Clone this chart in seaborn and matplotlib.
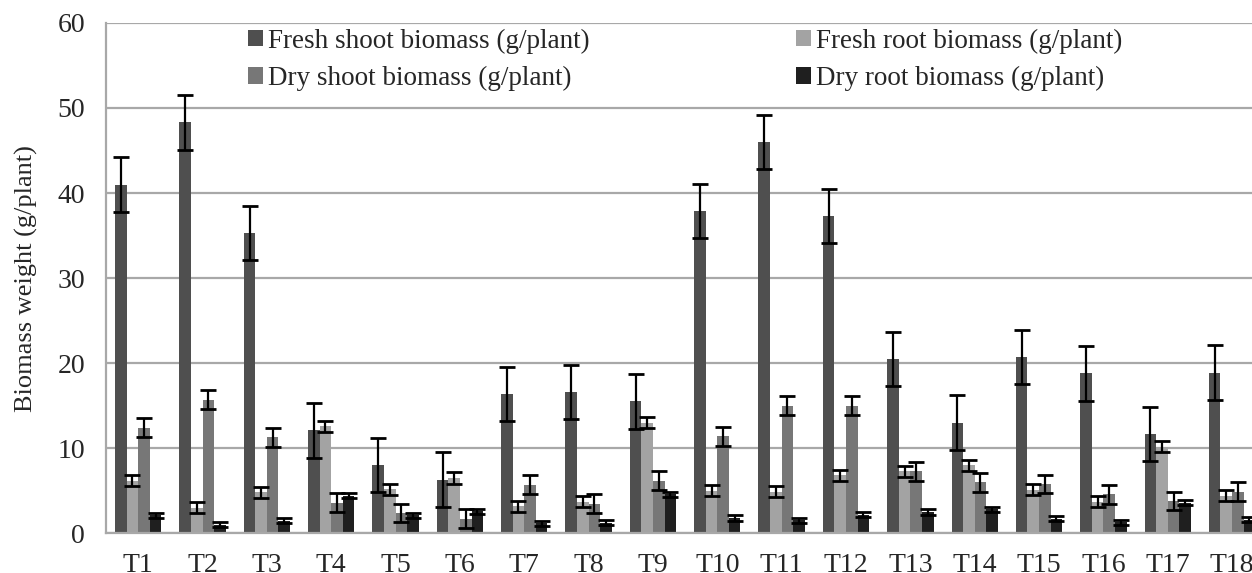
import numpy as np
import pandas as pd
import matplotlib
matplotlib.use("Agg")
import matplotlib.pyplot as plt
import seaborn as sns

treatments = ["T%d" % i for i in range(1, 19)]
series = ["Fresh shoot biomass (g/plant)", "Fresh root biomass (g/plant)",
          "Dry shoot biomass (g/plant)", "Dry root biomass (g/plant)"]

fresh_shoot = [41.0, 48.3, 35.3, 12.1, 8.0, 6.3, 16.4, 16.6, 15.5,
               37.9, 46.0, 37.3, 20.5, 13.0, 20.7, 18.8, 11.7, 18.9]
fresh_root = [6.2, 3.0, 4.8, 12.6, 5.2, 6.5, 3.2, 3.7, 13.0,
              5.0, 4.9, 6.8, 7.3, 8.0, 5.1, 3.7, 10.2, 4.4]
dry_shoot = [12.4, 15.7, 11.3, 3.6, 2.4, 1.7, 5.7, 3.5, 6.2,
             11.4, 15.0, 15.0, 7.3, 6.0, 5.8, 4.6, 3.8, 4.9]
dry_root = [2.1, 1.0, 1.5, 4.4, 2.1, 2.6, 1.2, 1.25, 4.6,
            1.8, 1.55, 2.2, 2.5, 2.8, 1.7, 1.3, 3.6, 1.6]

err_fresh_shoot = [3.2] * 18
err_fresh_root = [0.65] * 18
err_dry_shoot = [1.1] * 18
err_dry_root = [0.3] * 18

colors = ["#4f4f4f", "#a3a3a3", "#777777", "#1f1f1f"]

values = [fresh_shoot, fresh_root, dry_shoot, dry_root]
errors = [err_fresh_shoot, err_fresh_root, err_dry_shoot, err_dry_root]

df = pd.DataFrame({
    "treatment": treatments * 4,
    "series": np.repeat(series, 18),
    "value": np.concatenate(values),
})

sns.set_style("white")
plt.rcParams["font.family"] = ["Liberation Serif", "DejaVu Serif"]

fig = plt.figure(figsize=(12.52, 5.73), dpi=100)
ax = fig.add_axes([0.0847, 0.0693, 0.9153, 0.8907])

sns.barplot(data=df, x="treatment", y="value", hue="series", hue_order=series,
            palette=colors, width=0.72, errorbar=None, linewidth=0, ax=ax)

# error bars centred on the bar tops, Excel style
for cont, err in zip(ax.containers, errors):
    xs = [b.get_x() + b.get_width() / 2 for b in cont]
    ys = [b.get_height() for b in cont]
    ax.errorbar(xs, ys, yerr=err, fmt="none", ecolor="black",
                elinewidth=1.6, capsize=6, capthick=2, zorder=5)

ax.set_ylim(0, 60)
ax.set_yticks(range(0, 61, 10))
ax.set_xlim(-0.5, 17.31)
ax.yaxis.grid(True, color="#a8a8a8", linewidth=1.6)
ax.set_axisbelow(True)
for s in ["top", "right"]:
    ax.spines[s].set_visible(False)
for s in ["left", "bottom"]:
    ax.spines[s].set_color("#a8a8a8")
    ax.spines[s].set_linewidth(1.6)
ax.tick_params(length=0, labelsize=20)
ax.tick_params(axis="y", pad=15)
ax.tick_params(axis="x", pad=14)
ax.set_xlabel("")
ax.set_ylabel("Biomass weight (g/plant)", fontsize=19, labelpad=14)

handles, labels = ax.get_legend_handles_labels()
order = [0, 2, 1, 3]
ax.legend([handles[i] for i in order], [labels[i] for i in order],
          ncol=2, frameon=False, fontsize=19.5, loc="upper left",
          bbox_to_anchor=(0.1145, 1.01), handlelength=0.55, handleheight=0.55,
          handletextpad=0.2, columnspacing=7.6, labelspacing=0.45,
          borderaxespad=0)

fig.savefig("out.png", dpi=100)
